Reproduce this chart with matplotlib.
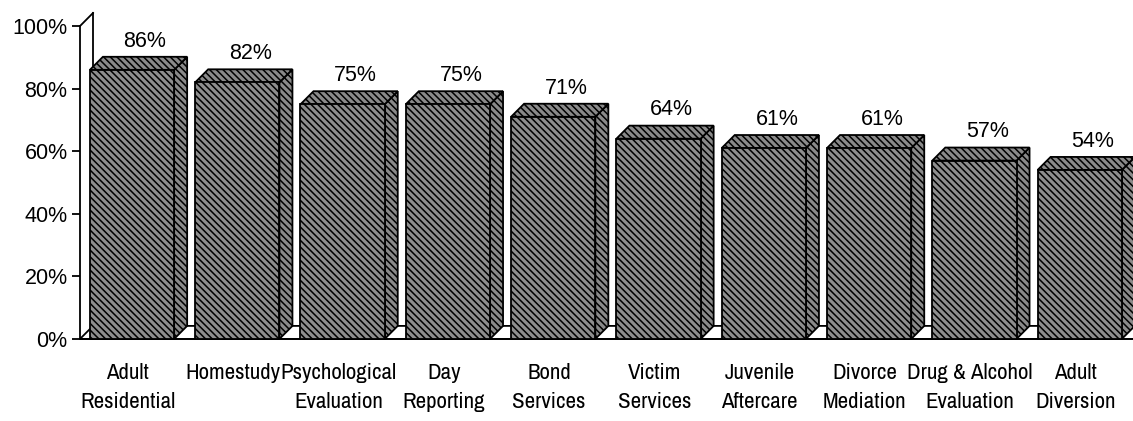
import matplotlib
matplotlib.use("Agg")
import matplotlib.pyplot as plt
from matplotlib import font_manager
from matplotlib.patches import Rectangle, Polygon

# Share of respondents offering each service
services = ["Adult\nResidential", "Homestudy", "Psychological\nEvaluation",
            "Day\nReporting", "Bond\nServices", "Victim\nServices",
            "Juvenile\nAftercare", "Divorce\nMediation",
            "Drug & Alcohol\nEvaluation", "Adult\nDiversion"]
percent = [86, 82, 75, 75, 71, 64, 61, 61, 57, 54]
y_ticks = [0, 20, 40, 60, 80, 100]

plt.rcParams["hatch.linewidth"] = 1.1

# narrow face for the category names, regular sans otherwise
installed = {f.name for f in font_manager.fontManager.ttflist}
if "Archivo Narrow" in installed:
    cat_font, cat_size = ["Archivo Narrow", "Liberation Sans"], 16.5
else:
    cat_font, cat_size = ["Liberation Sans", "DejaVu Sans"], 12.5
num_font = ["Liberation Sans", "DejaVu Sans"]

W, H = 1133, 421
fig = plt.figure(figsize=(W / 100, H / 100), dpi=100)
# axes placed so that one bar slot is ~105 px and 100% is ~312 px tall
ax = fig.add_axes([80 / W, (H - 354.6) / H, 1053 / W, 353.6 / H])
ax.set_xlim(-0.494, 9.506)
ax.set_ylim(-5, 108)

bar_w = 0.80
dx = 0.1235   # depth offset in x (data units)
dy = 4.17     # depth offset in y (percent)
x0 = -0.494
x1 = 9.506 + 0.2

# floor of the 3d box
floor = Polygon([(x0, 0), (x1, 0), (x1 + dx, dy), (x0 + dx, dy)],
                closed=True, facecolor="white", edgecolor="black",
                lw=1.3, zorder=1)
ax.add_patch(floor)

# back wall edge and its top corner
ax.plot([x0 + dx, x0 + dx], [dy, 100 + dy], color="black", lw=1.3, zorder=1)
ax.plot([x0, x0 + dx], [100, 100 + dy], color="black", lw=1.3, zorder=1,
        clip_on=False)

hatch_bar = "\\" * 5
for i, v in enumerate(percent):
    left, right = i - bar_w / 2, i + bar_w / 2
    side = Polygon([(right, 0), (right + dx, dy), (right + dx, v + dy), (right, v)],
                   closed=True, facecolor="#8a8a8a", edgecolor="black",
                   hatch=hatch_bar, lw=1.3, zorder=3)
    top = Polygon([(left, v), (left + dx, v + dy), (right + dx, v + dy), (right, v)],
                  closed=True, facecolor="#8a8a8a", edgecolor="black",
                  hatch=hatch_bar, lw=1.3, zorder=3)
    front = Rectangle((left, 0), bar_w, v, facecolor="#8e8e8e",
                      edgecolor="black", hatch=hatch_bar, lw=1.3, zorder=4)
    for p in (side, top, front):
        p.set_clip_on(False)
        ax.add_patch(p)
    ax.text(i + dx, v + dy + 5.0, f"{v}%", ha="center", va="center",
            fontsize=15.5, family=num_font)
    ax.text(i - 0.04, -7.7, services[i], ha="center", va="top",
            fontsize=cat_size, linespacing=1.55, family=cat_font)

ax.set_xticks([])
ax.set_yticks(y_ticks)
ax.set_yticklabels([f"{t}%" for t in y_ticks], fontsize=15.5, family=num_font)
ax.tick_params(axis="y", direction="out", length=6, width=1.3, pad=3)

for s in ("top", "right"):
    ax.spines[s].set_visible(False)
ax.spines["left"].set_bounds(0, 100)
ax.spines["left"].set_linewidth(1.3)
ax.spines["bottom"].set_visible(False)
ax.axhline(0, color="black", lw=1.3, zorder=2)

fig.savefig("out.png", dpi=100)
